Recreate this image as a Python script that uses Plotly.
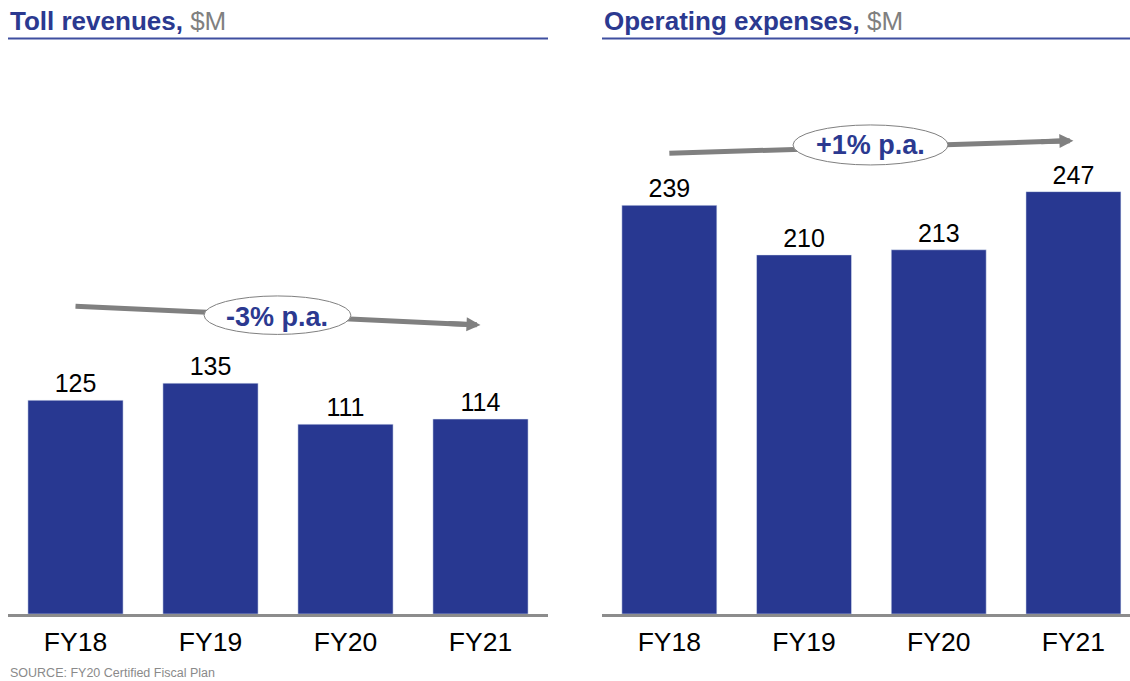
import plotly.graph_objects as go

# ---- data ----
categories = ["FY18", "FY19", "FY20", "FY21"]
toll_revenues = [125, 135, 111, 114]
operating_expenses = [239, 210, 213, 247]
toll_trend_label = "-3% p.a."
opex_trend_label = "+1% p.a."
title_left = "Toll revenues,"
title_right = "Operating expenses,"
unit = "$M"
source_text = "SOURCE: FY20 Certified Fiscal Plan"

# ---- styling ----
W, H = 1130, 681
BAR = "#283891"
TITLE_BLUE = "#2B3990"
GRAY = "#808080"
FONT = "Arial, Liberation Sans, sans-serif"

def px_x(p):
    return p / W

def px_y(p):
    return 1 - p / H

y_bottom, y_top = 614, 40
scale = 1.71  # px per unit
yrange = [0, (y_bottom - y_top) / scale]

fig = go.Figure()
fig.add_trace(go.Bar(x=list(range(4)), y=toll_revenues, width=0.705, marker_color=BAR,
                     text=[str(v) for v in toll_revenues], textposition="outside",
                     textfont=dict(size=25, color="black", family=FONT),
                     cliponaxis=False, xaxis="x", yaxis="y", hoverinfo="skip"))
fig.add_trace(go.Bar(x=list(range(4)), y=operating_expenses, width=0.705, marker_color=BAR,
                     text=[str(v) for v in operating_expenses], textposition="outside",
                     textfont=dict(size=25, color="black", family=FONT),
                     cliponaxis=False, xaxis="x2", yaxis="y2", hoverinfo="skip"))

xcommon = dict(tickmode="array", tickvals=list(range(4)), ticktext=categories,
               showline=True, linecolor="#8c8c8c", linewidth=3, showgrid=False,
               zeroline=False, ticks="", ticklabelstandoff=2,
               tickfont=dict(size=26.5, color="black", family=FONT), fixedrange=True)
ycommon = dict(range=yrange, visible=False, showgrid=False, zeroline=False,
               domain=[px_y(y_bottom), px_y(y_top)], fixedrange=True)

fig.update_layout(
    width=W, height=H, margin=dict(l=0, r=0, t=0, b=0),
    paper_bgcolor="white", plot_bgcolor="white", showlegend=False,
    xaxis=dict(domain=[px_x(8), px_x(548)], range=[-0.5, 3.5], anchor="y", **xcommon),
    yaxis=dict(anchor="x", **ycommon),
    xaxis2=dict(domain=[px_x(602), 1.0], range=[-0.5, 3.42], anchor="y2", **xcommon),
    yaxis2=dict(anchor="x2", **ycommon),
    font=dict(family=FONT),
)

shapes = []
annotations = []

# title underlines
shapes.append(dict(type="line", xref="paper", yref="paper", x0=px_x(8), x1=px_x(548),
                   y0=px_y(38.5), y1=px_y(38.5), line=dict(color="#3F4FA0", width=2)))
shapes.append(dict(type="line", xref="paper", yref="paper", x0=px_x(602), x1=1.0,
                   y0=px_y(38.5), y1=px_y(38.5), line=dict(color="#3F4FA0", width=2)))

# titles
for xpx, t in [(8, title_left), (602, title_right)]:
    annotations.append(dict(xref="paper", yref="paper", x=px_x(xpx), y=px_y(21),
                            xanchor="left", yanchor="middle", showarrow=False,
                            text=f"<b>{t}</b> <span style='color:{GRAY}'>{unit}</span>",
                            font=dict(size=26, color=TITLE_BLUE, family=FONT)))

# source
annotations.append(dict(xref="paper", yref="paper", x=px_x(8), y=px_y(673),
                        xanchor="left", yanchor="middle", showarrow=False,
                        text=source_text, font=dict(size=12.5, color="#8a8a8a", family=FONT)))

# trend arrows: (xref, yref, y_start, y_end, ellipse x0,x1,y0,y1, label, label_y)
trends = [
    ("x", "y", 180.0, 169.0, 0.952, 2.04, 163.5, 186.0, toll_trend_label, 173.5),
    ("x2", "y2", 269.4, 276.8, 0.918, 2.069, 262.6, 286.0, opex_trend_label, 274.3),
]
for xr, yr, ys, ye, ex0, ex1, ey0, ey1, lab, ly in trends:
    yf = lambda x: ys + (ye - ys) * x / 3
    shapes.append(dict(type="line", xref=xr, yref=yr, x0=0, y0=ys, x1=2.9, y1=yf(2.9),
                       line=dict(color=GRAY, width=5), layer="above"))
    shapes.append(dict(type="circle", xref=xr, yref=yr, x0=ex0, x1=ex1, y0=ey0, y1=ey1,
                       fillcolor="white", line=dict(color=GRAY, width=1), layer="above"))
    annotations.append(dict(xref=xr, yref=yr, axref=xr, ayref=yr, x=3, y=ye,
                            ax=2.75, ay=yf(2.75), text="", showarrow=True,
                            arrowhead=2, arrowsize=0.56, arrowwidth=5, arrowcolor=GRAY,
                            standoff=0, startstandoff=0))
    annotations.append(dict(xref=xr, yref=yr, x=(ex0 + ex1) / 2, y=ly, showarrow=False,
                            text=f"<b>{lab}</b>",
                            font=dict(size=27, color=TITLE_BLUE, family=FONT)))

fig.update_layout(shapes=shapes, annotations=annotations)
fig.write_html("out.html", config={"displayModeBar": False, "staticPlot": True},
               post_script="document.body.style.margin='0';document.body.style.overflow='hidden';")
